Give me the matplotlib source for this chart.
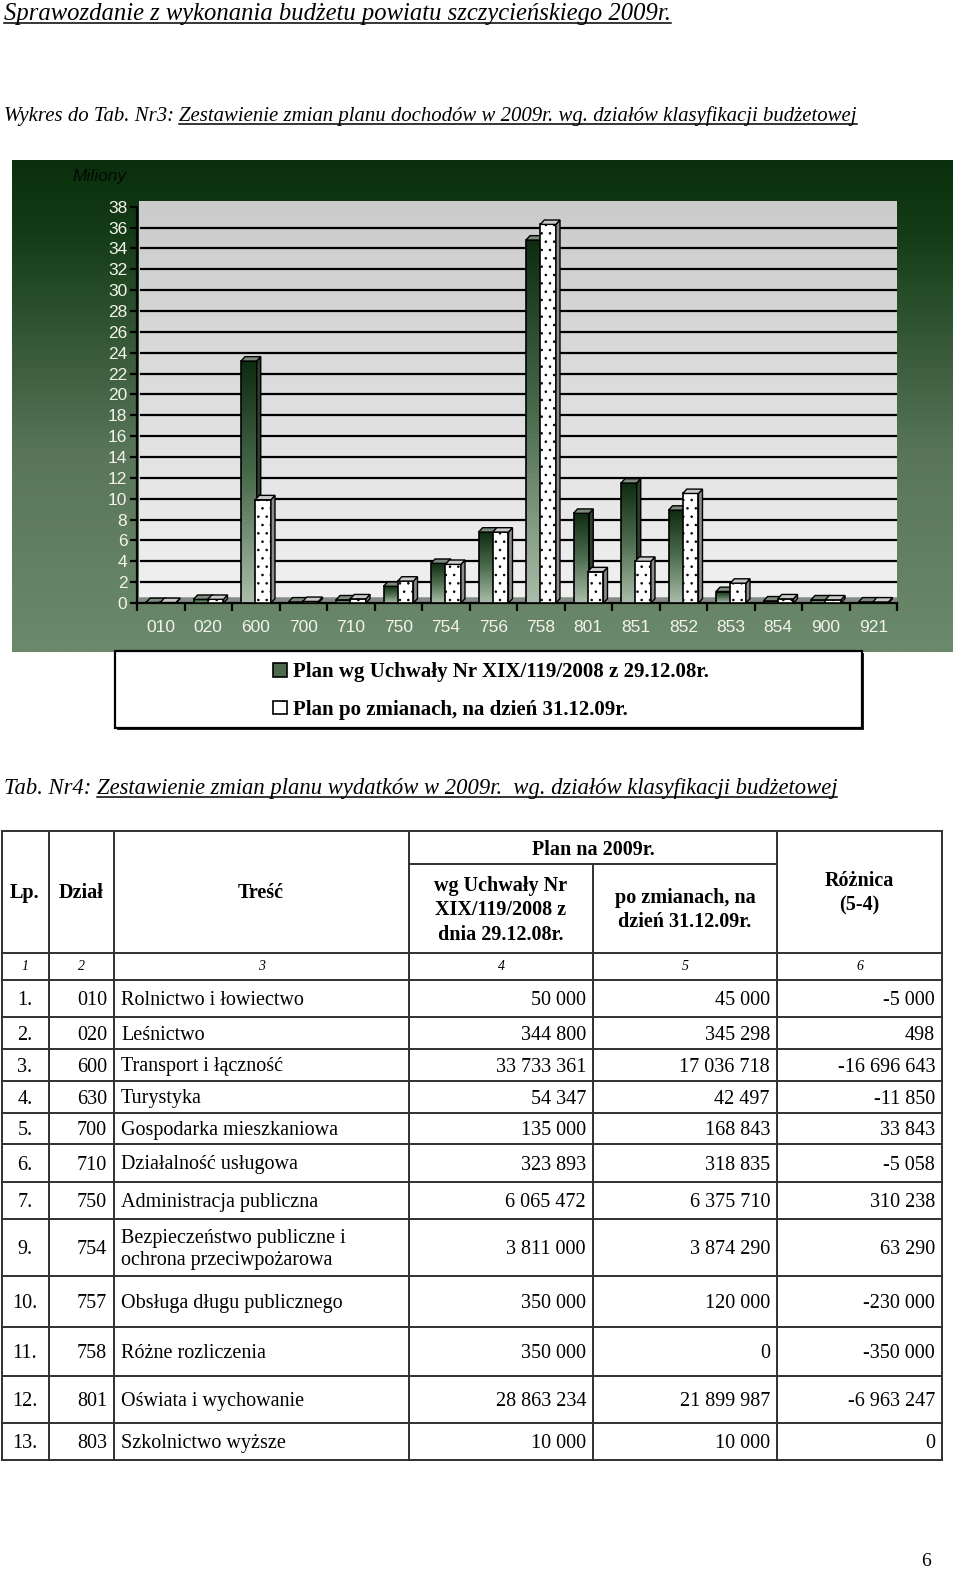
import matplotlib
matplotlib.use("Agg")
import matplotlib.pyplot as plt
import matplotlib.colors as mcolors
from matplotlib.patches import Rectangle, Polygon, Patch
import numpy as np

W, H = 960, 1569

# --- dane do wykresu (miliony zl) ---
dzialy_wykres = ['010', '020', '600', '700', '710', '750', '754', '756',
                 '758', '801', '851', '852', '853', '854', '900', '921']
plan_uchwala_mln = [0.05, 0.35, 23.2, 0.1, 0.3, 1.6, 3.8, 6.8,
                    34.8, 8.6, 11.5, 8.9, 1.1, 0.2, 0.3, 0.1]
plan_zmiany_mln = [0.05, 0.35, 9.9, 0.15, 0.4, 2.1, 3.7, 6.8,
                   36.3, 3.0, 4.0, 10.5, 1.9, 0.4, 0.3, 0.1]
legenda = ['Plan wg Uchwały Nr XIX/119/2008 z 29.12.08r.',
           'Plan po zmianach, na dzień 31.12.09r.']

# --- tabela Nr4 ---
lp = ['1.', '2.', '3.', '4.', '5.', '6.', '7.', '9.', '10.', '11.', '12.', '13.']
dzial = ['010', '020', '600', '630', '700', '710', '750', '754', '757', '758', '801', '803']
tresc = ['Rolnictwo i łowiectwo', 'Leśnictwo', 'Transport i łączność', 'Turystyka',
         'Gospodarka mieszkaniowa', 'Działalność usługowa', 'Administracja publiczna',
         'Bezpieczeństwo publiczne i\nochrona przeciwpożarowa', 'Obsługa długu publicznego',
         'Różne rozliczenia', 'Oświata i wychowanie', 'Szkolnictwo wyższe']
plan_2008 = [50000, 344800, 33733361, 54347, 135000, 323893, 6065472,
             3811000, 350000, 350000, 28863234, 10000]
plan_po = [45000, 345298, 17036718, 42497, 168843, 318835, 6375710,
           3874290, 120000, 0, 21899987, 10000]
roznica = [-5000, 498, -16696643, -11850, 33843, -5058, 310238,
           63290, -230000, -350000, -6963247, 0]


def fmt(v):
    s = '{:,}'.format(abs(v)).replace(',', ' ')
    return ('-' if v < 0 else '') + s


def fx(px):
    return px / W


def fy(py):
    return 1 - py / H


plt.rcParams['hatch.linewidth'] = 0.6

fig = plt.figure(figsize=(W / 100, H / 100), dpi=100)
fig.patch.set_facecolor('white')

# zielone tlo wykresu
bg = fig.add_axes([fx(12), fy(652), (953 - 12) / W, (652 - 160) / H])
green = mcolors.LinearSegmentedColormap.from_list(
    'g', [(0, '#0b2f0c'), (0.15, '#143c16'), (0.6, '#597659'), (1, '#6b896b')])
bg.imshow(np.linspace(0, 1, 256).reshape(-1, 1), aspect='auto', cmap=green, extent=(0, 1, 0, 1))
bg.axis('off')

# os wykresu
ppu = 10.43
ytop = 38.5
n = len(dzialy_wykres)
ax = fig.add_axes([fx(137), fy(603), (897 - 137) / W, ytop * ppu / H])
ax.patch.set_alpha(0)
wall = mcolors.LinearSegmentedColormap.from_list('w', ['#cbcbcb', '#f1f1f1'])
ax.imshow(np.linspace(0, 1, 256).reshape(-1, 1), aspect='auto', cmap=wall,
          extent=(0.05, n, 0, ytop), zorder=0)
ax.add_patch(Polygon([(0, 0), (n, 0), (n + 0.05, 0.55), (0.05, 0.55)],
                     closed=True, fc='#858c85', ec='none', zorder=1))
for g in range(2, 38, 2):
    ax.axhline(g, xmin=0.005, color='black', lw=1.6, zorder=1.5)

dx, dy = 0.085, 0.42
bar_cmap = mcolors.LinearSegmentedColormap.from_list('b', ['#0f2c12', '#4e6e50', '#a9bca9'])


def bar3d(x0, w, h, front, side, top, z):
    x1 = x0 + w
    if front == 'grad':
        ax.imshow(np.linspace(0, 1, 64).reshape(-1, 1), aspect='auto', cmap=bar_cmap,
                  extent=(x0, x1, 0, h), zorder=z)
        ax.add_patch(Rectangle((x0, 0), w, h, fc='none', ec='black', lw=1.2, zorder=z + 0.1))
    else:
        ax.add_patch(Rectangle((x0, 0), w, h, fc='white', ec='black', lw=1.2,
                               hatch='..', zorder=z + 0.1))
    ax.add_patch(Polygon([(x1, 0), (x1 + dx, dy), (x1 + dx, h + dy), (x1, h)],
                         closed=True, fc=side, ec='black', lw=1.0, zorder=z + 0.1))
    ax.add_patch(Polygon([(x0, h), (x0 + dx, h + dy), (x1 + dx, h + dy), (x1, h)],
                         closed=True, fc=top, ec='black', lw=1.0, zorder=z + 0.1))


xs = np.arange(n)
for i in xs:
    bar3d(i + 0.19, 0.33, plan_uchwala_mln[i], 'grad', '#2c3e2d', '#7d8b7d', 3 + i * 0.01)
    bar3d(i + 0.49, 0.33, plan_zmiany_mln[i], 'dots', '#8c8c8c', '#cacaca', 3.5 + i * 0.01)

ax.set_xlim(0, n)
ax.set_ylim(0, ytop)
ax.set_aspect('auto')
for s in ['top', 'right']:
    ax.spines[s].set_visible(False)
ax.spines['left'].set_bounds(0, 38)
ax.spines['left'].set_linewidth(1.6)
ax.spines['bottom'].set_linewidth(1.6)
ax.set_yticks(range(0, 39, 2))
ax.tick_params(axis='y', colors='black', labelcolor='#f3f3ea', labelsize=12.5,
               length=5, width=1.6, pad=2)
ax.set_xticks(xs + 0.5, dzialy_wykres)
ax.set_xticks(np.arange(n + 1), minor=True)
ax.tick_params(axis='x', which='major', length=0, labelcolor='#f3f3ea', labelsize=12.5, pad=12)
ax.tick_params(axis='x', which='minor', length=6, width=1.6, color='black')
for lab in ax.get_xticklabels() + ax.get_yticklabels():
    lab.set_family('Liberation Sans')

# warstwa strony (wspolrzedne w pikselach)
pg = fig.add_axes([0, 0, 1, 1], zorder=5)
pg.set_xlim(0, W)
pg.set_ylim(H, 0)
pg.axis('off')
pg.patch.set_alpha(0)

pg.text(72, 176, 'Miliony', fontsize=12.5, style='italic', color='#020a02',
        family='Liberation Sans', va='center', ha='left')

# legenda
pg.add_patch(Rectangle((117, 653), 747, 77, fc='#222222', ec='none', zorder=1))
pg.add_patch(Rectangle((115, 651), 747, 77, fc='white', ec='black', lw=1.6, zorder=2))
handles = [Patch(fc='#4d6a4e', ec='black', lw=1.2),
           Patch(fc='white', ec='black', lw=1.2, hatch='.')]
leg = pg.legend(handles, legenda, loc='center', bbox_to_anchor=(fx(491), fy(691)),
                bbox_transform=fig.transFigure, frameon=False, handlelength=0.65,
                handleheight=0.65, handletextpad=0.3, labelspacing=0.85,
                prop={'family': 'Liberation Serif', 'weight': 'bold', 'size': 15})
leg.set_zorder(3)

# naglowki strony
fig.canvas.draw()
rend = fig.canvas.get_renderer()
inv = pg.transData.inverted()


def heading(x, y, prefix, under, size, width):
    t1 = pg.text(x, y, prefix, fontsize=size, style='italic', family='Liberation Serif',
                 va='baseline', ha='left')
    t2 = pg.text(x, y, under, fontsize=size, style='italic', family='Liberation Serif',
                 va='baseline', ha='left')
    tot = (t1.get_window_extent(rend).width if prefix else 0) + t2.get_window_extent(rend).width
    k = width / tot
    t1.set_fontsize(size * k)
    t2.set_fontsize(size * k)
    w1 = t1.get_window_extent(rend).width if prefix else 0
    if not prefix:
        t1.set_text('')
    t2.set_x(x + w1)
    bb = t2.get_window_extent(rend)
    xa = inv.transform((bb.x0, 0))[0]
    xb = inv.transform((bb.x1, 0))[0]
    pg.plot([xa, xb], [y + 3, y + 3], color='black', lw=1.1)


heading(4, 20, '', 'Sprawozdanie z wykonania budżetu powiatu szczycieńskiego 2009r.', 16.5, 665)
heading(4, 121, 'Wykres do Tab. Nr3: ',
        'Zestawienie zmian planu dochodów w 2009r. wg. działów klasyfikacji budżetowej', 16.5, 851)
heading(4, 794, 'Tab. Nr4: ',
        'Zestawienie zmian planu wydatków w 2009r.  wg. działów klasyfikacji budżetowej', 16, 834)

# tabela
col_x = [2, 49, 114, 409, 593, 777, 942]
row_y = [980, 1017, 1049, 1081, 1113, 1144, 1182, 1219, 1276, 1327, 1376, 1423, 1460]
lc = dict(color='#303030', lw=1.4)
pg.plot([col_x[0], col_x[-1]], [831, 831], **lc)
pg.plot([col_x[3], col_x[5]], [864, 864], **lc)
pg.plot([col_x[0], col_x[-1]], [953, 953], **lc)
for yy in row_y:
    pg.plot([col_x[0], col_x[-1]], [yy, yy], **lc)
for j, xx in enumerate(col_x):
    pg.plot([xx, xx], [864 if j == 4 else 831, row_y[-1]], **lc)

hd = dict(family='Liberation Serif', weight='bold', fontsize=14.5, ha='center', va='center',
          linespacing=1.3)
pg.text(25, 893, 'Lp.', **hd)
pg.text(81, 893, 'Dział', **hd)
pg.text(261, 893, 'Treść', **hd)
pg.text(593, 850, 'Plan na 2009r.', **hd)
pg.text(501, 910, 'wg Uchwały Nr\nXIX/119/2008 z\ndnia 29.12.08r.', **hd)
pg.text(685, 910, 'po zmianach, na\ndzień 31.12.09r.', **hd)
pg.text(859, 893, 'Różnica\n(5-4)', **hd)
for j in range(6):
    pg.text((col_x[j] + col_x[j + 1]) / 2, 967, str(j + 1), family='Liberation Serif',
            style='italic', fontsize=10, ha='center', va='center')

bd = dict(family='Liberation Serif', fontsize=14.5, va='center')
for i in range(len(lp)):
    yc = (row_y[i] + row_y[i + 1]) / 2 + 2
    pg.text(25, yc, lp[i], ha='center', **bd)
    pg.text(107, yc, dzial[i], ha='right', **bd)
    pg.text(121, yc, tresc[i], ha='left', linespacing=1.25, **bd)
    pg.text(586, yc, fmt(plan_2008[i]), ha='right', **bd)
    pg.text(770, yc, fmt(plan_po[i]), ha='right', **bd)
    pg.text(935, yc, fmt(roznica[i]), ha='right', **bd)

pg.text(926, 1561, '6', family='Liberation Serif', fontsize=14, ha='center', va='center')

fig.savefig('out.png', dpi=100)
